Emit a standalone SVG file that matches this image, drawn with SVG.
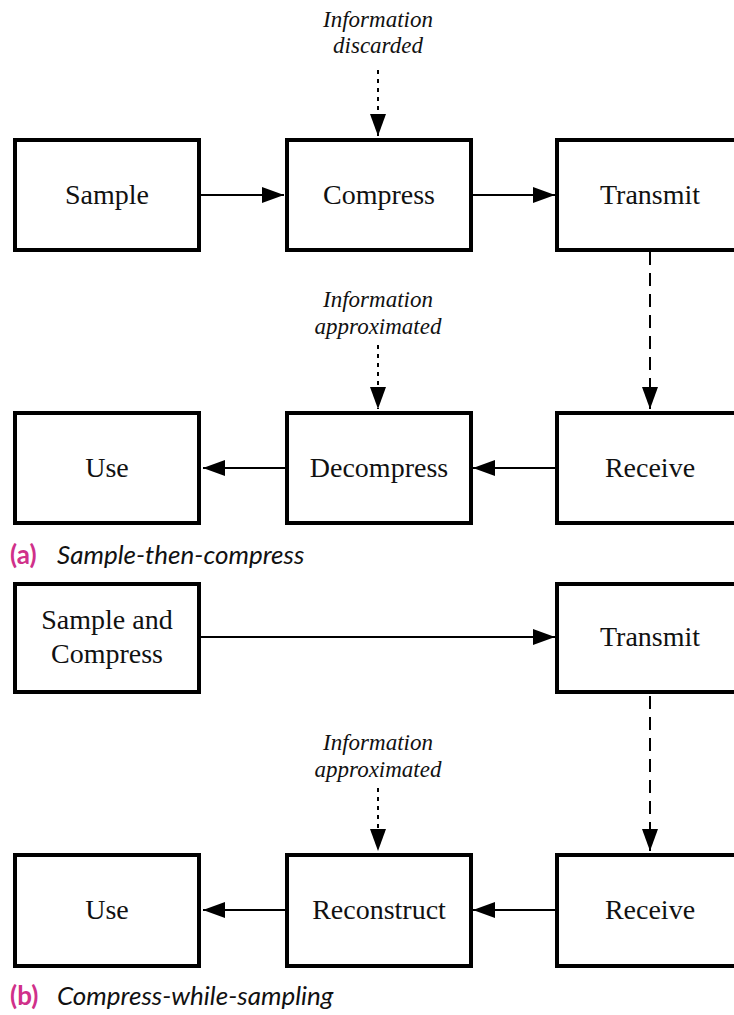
<svg xmlns="http://www.w3.org/2000/svg" width="734" height="1015" viewBox="0 0 734 1015">
<style>
.box{fill:#fff;stroke:#000;stroke-width:4}
.lbl{font-family:"Liberation Serif",serif;font-size:28px;text-anchor:middle;fill:#111}
.note{font-family:"Liberation Serif",serif;font-style:italic;font-size:23px;text-anchor:middle;fill:#111}
.solid{stroke:#000;stroke-width:2;fill:none}
.dot{stroke:#000;stroke-width:2;fill:none;stroke-dasharray:4 5}
.dash{stroke:#000;stroke-width:2;fill:none;stroke-dasharray:13 8}
.cap{font-family:"Lato","Open Sans",sans-serif;font-size:26px;fill:#111}
.tag{font-weight:bold;font-style:normal;fill:#d0308a}
</style>
<defs>
<marker id="ah" markerWidth="22" markerHeight="16" refX="22" refY="8" orient="auto" markerUnits="userSpaceOnUse">
<path d="M0,0 L22,8 L0,16 Z" fill="#000"/>
</marker>
</defs>
<g id="connectors">
<line class="solid" x1="201" y1="195" x2="284" y2="195" marker-end="url(#ah)"/>
<line class="solid" x1="471" y1="195" x2="555" y2="195" marker-end="url(#ah)"/>
<line class="dot" x1="378" y1="70" x2="378" y2="136" marker-end="url(#ah)"/>
<line class="dash" x1="650" y1="252" x2="650" y2="409" marker-end="url(#ah)"/>
<line class="dot" x1="378" y1="345" x2="378" y2="409" marker-end="url(#ah)"/>
<line class="solid" x1="555" y1="468" x2="473" y2="468" marker-end="url(#ah)"/>
<line class="solid" x1="285" y1="468" x2="203" y2="468" marker-end="url(#ah)"/>
<line class="solid" x1="201" y1="637" x2="555" y2="637" marker-end="url(#ah)"/>
<line class="dash" x1="650" y1="696" x2="650" y2="851" marker-end="url(#ah)"/>
<line class="dot" x1="378" y1="788" x2="378" y2="851" marker-end="url(#ah)"/>
<line class="solid" x1="555" y1="910" x2="473" y2="910" marker-end="url(#ah)"/>
<line class="solid" x1="285" y1="910" x2="203" y2="910" marker-end="url(#ah)"/>
</g>
<g id="note-discarded"><text class="note" x="378" y="27">Information</text><text class="note" x="378" y="53">discarded</text></g>
<g id="note-approx-a"><text class="note" x="378" y="307">Information</text><text class="note" x="378" y="334">approximated</text></g>
<g id="note-approx-b"><text class="note" x="378" y="750">Information</text><text class="note" x="378" y="777">approximated</text></g>
<g id="sample"><rect class="box" x="15" y="140" width="184" height="110"/><text class="lbl" x="107" y="204">Sample</text></g>
<g id="compress"><rect class="box" x="287" y="140" width="184" height="110"/><text class="lbl" x="379" y="204">Compress</text></g>
<g id="transmit-a"><rect class="box" x="557" y="140" width="184" height="110"/><text class="lbl" x="650" y="204">Transmit</text></g>
<g id="use-a"><rect class="box" x="15" y="413" width="184" height="110"/><text class="lbl" x="107" y="477">Use</text></g>
<g id="decompress"><rect class="box" x="287" y="413" width="184" height="110"/><text class="lbl" x="379" y="477">Decompress</text></g>
<g id="receive-a"><rect class="box" x="557" y="413" width="184" height="110"/><text class="lbl" x="650" y="477">Receive</text></g>
<g id="caption-a"><text class="cap" x="10" y="564"><tspan class="tag">(a)</tspan><tspan x="57" font-style="italic">Sample-then-compress</tspan></text></g>
<g id="sample-compress"><rect class="box" x="15" y="584" width="184" height="108"/><text class="lbl" x="107" y="629">Sample and</text><text class="lbl" x="107" y="663">Compress</text></g>
<g id="transmit-b"><rect class="box" x="557" y="584" width="184" height="108"/><text class="lbl" x="650" y="646">Transmit</text></g>
<g id="use-b"><rect class="box" x="15" y="855" width="184" height="111"/><text class="lbl" x="107" y="919">Use</text></g>
<g id="reconstruct"><rect class="box" x="287" y="855" width="184" height="111"/><text class="lbl" x="379" y="919">Reconstruct</text></g>
<g id="receive-b"><rect class="box" x="557" y="855" width="184" height="111"/><text class="lbl" x="650" y="919">Receive</text></g>
<g id="caption-b"><text class="cap" x="10" y="1005"><tspan class="tag">(b)</tspan><tspan x="57" font-style="italic">Compress-while-sampling</tspan></text></g>
</svg>
